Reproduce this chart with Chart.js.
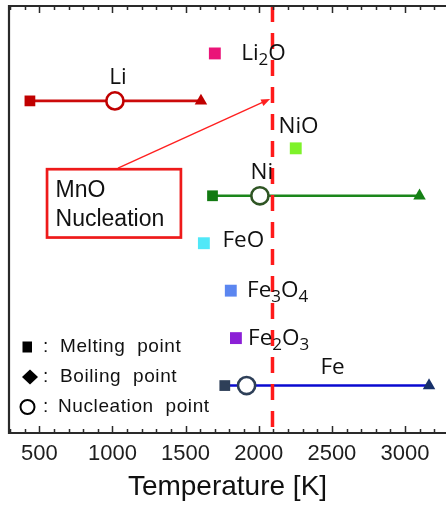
<!DOCTYPE html>
<html><head><meta charset="utf-8">
<script src="https://cdn.jsdelivr.net/npm/chart.js@4/dist/chart.umd.min.js"></script>
<style>html,body{margin:0;padding:0;background:#fff;overflow:hidden}</style>
</head><body><canvas id="c" width="446" height="507" style="display:block;width:446px;height:507px"></canvas>
<script>
// ---- data ----
const elements = ['Li', 'Ni', 'Fe'];
const elementRows = [2, 4, 8];
const meltingK = [436, 1684, 1768];
const nucleationK = [1017, 2008, 1917];
const boilingK = [1605, 3099, 3164];
const oxides = ['Li_2O', 'NiO', 'FeO', 'Fe_3O_4', 'Fe_2O_3'];
const oxideRows = [1, 3, 5, 6, 7];
const oxideMeltingK = [1700, 2253, 1625, 1809, 1844];
const mnoNucleationK = 2094;
const xMin = 293, xMax = 3280, xStep = 100, xLabelStep = 500;
const rowMin = 0, rowMax = 9;
const legendItems = ['Melting point', 'Boiling point', 'Nucleation point'];
const annotationText = ['MnO', 'Nucleation'];
const xTitle = 'Temperature [K]';

// ---- styles ----
const lineColors = ['#cc0a0a', '#1b861b', '#0a0ad0'];
const meltColors = ['#c00000', '#127a12', '#2e3f58'];
const nucColors = ['#c00000', '#2f5524', '#2e3f58'];
const boilColors = ['#c00000', '#158015', '#17306a'];
const oxideColors = ['#ea1478', '#7ef22a', '#50e8f8', '#5b86f0', '#8b1fd6'];
// label anchors: [temperature, row]
const elementLabelPos = [[1038, 1.5], [2021, 3.52], [2505, 7.62]];
const oxideLabelPos = [[1880, 1.0], [2135, 2.55], [1752, 4.95], [1920, 6.0], [1927, 7.0]];

const datasets = [];
datasets.push({
  data: [{x: mnoNucleationK, y: rowMin}, {x: mnoNucleationK, y: rowMax}],
  showLine: true, borderColor: '#ff1a1a', borderWidth: 3.5, borderDash: [16, 11],
  pointRadius: 0, borderCapStyle: 'butt'
});
elements.forEach((el, i) => {
  datasets.push({
    label: el,
    data: [{x: meltingK[i], y: elementRows[i]}, {x: nucleationK[i], y: elementRows[i]}, {x: boilingK[i], y: elementRows[i]}],
    showLine: true, borderColor: lineColors[i], borderWidth: 2.6,
    pointStyle: ['rect', 'circle', 'triangle'],
    pointRadius: [7.6, 8.6, 7.2],
    pointBackgroundColor: [meltColors[i], '#ffffff', boilColors[i]],
    pointBorderColor: [meltColors[i], nucColors[i], boilColors[i]],
    pointBorderWidth: [0, 2.6, 0]
  });
});
datasets.push({
  data: oxides.map((o, i) => ({x: oxideMeltingK[i], y: oxideRows[i]})),
  showLine: false, pointStyle: 'rect', pointRadius: 8.4, pointBorderWidth: 0,
  pointBackgroundColor: oxideColors
});

function drawRichText(ctx, text, x, y, size, align) {
  const parts = [];
  for (let i = 0; i < text.length; i++) {
    if (text[i] === '_') { parts.push([text[i + 1], true]); i++; }
    else parts.push([text[i], false]);
  }
  const fam = '"Open Sans", "Noto Sans", sans-serif';
  const main = size + 'px ' + fam;
  const sub = Math.round(size * 0.74) + 'px ' + fam;
  let total = 0;
  parts.forEach(p => { ctx.font = p[1] ? sub : main; total += ctx.measureText(p[0]).width; });
  let cx = align === 'center' ? x - total / 2 : x;
  ctx.textAlign = 'left'; ctx.textBaseline = 'middle';
  parts.forEach(p => {
    ctx.font = p[1] ? sub : main;
    ctx.fillText(p[0], cx, p[1] ? y + size * 0.3 : y);
    cx += ctx.measureText(p[0]).width;
  });
}

const decor = {
  id: 'decor',
  afterDatasetsDraw(chart) {
    const ctx = chart.ctx, a = chart.chartArea;
    const xs = chart.scales.x, ys = chart.scales.y;
    ctx.save();
    // frame
    ctx.strokeStyle = '#2a2a2a'; ctx.lineWidth = 2.2;
    ctx.beginPath();
    ctx.moveTo(a.right + 2, a.top); ctx.lineTo(a.left, a.top); ctx.lineTo(a.left, a.bottom); ctx.lineTo(a.right + 2, a.bottom);
    ctx.stroke();
    // inward ticks
    ctx.lineWidth = 1.5;
    xs.ticks.forEach(t => {
      const px = Math.round(xs.getPixelForValue(t.value)) + 0.5;
      const len = t.value % xLabelStep === 0 ? 7 : 4;
      ctx.beginPath();
      ctx.moveTo(px, a.bottom); ctx.lineTo(px, a.bottom - len);
      ctx.moveTo(px, a.top); ctx.lineTo(px, a.top + len);
      ctx.stroke();
    });
    // labels
    ctx.fillStyle = '#111';
    elements.forEach((el, i) => {
      const p = elementLabelPos[i];
      drawRichText(ctx, el, xs.getPixelForValue(p[0]), ys.getPixelForValue(p[1]), 22.5, 'center');
    });
    oxides.forEach((o, i) => {
      const p = oxideLabelPos[i];
      drawRichText(ctx, o, xs.getPixelForValue(p[0]), ys.getPixelForValue(p[1]), 22.5, 'left');
    });
    // MnO annotation box
    const bx1 = xs.getPixelForValue(553), bx2 = xs.getPixelForValue(1468);
    const by1 = ys.getPixelForValue(3.44), by2 = ys.getPixelForValue(4.88);
    ctx.strokeStyle = '#ee1a1a'; ctx.lineWidth = 2.7;
    ctx.strokeRect(bx1, by1, bx2 - bx1, by2 - by1);
    ctx.fillStyle = '#111';
    ctx.font = '23px "Liberation Sans", Arial, sans-serif';
    ctx.textAlign = 'left'; ctx.textBaseline = 'alphabetic';
    ctx.fillText(annotationText[0], bx1 + 8.5, by1 + 28);
    ctx.fillText(annotationText[1], bx1 + 8.5, by1 + 56.5);
    // arrow
    const ax1 = xs.getPixelForValue(1038), ay1 = by1 - 1;
    const ax2 = xs.getPixelForValue(2078), ay2 = ys.getPixelForValue(1.96);
    ctx.strokeStyle = '#ff2020'; ctx.fillStyle = '#ff2020'; ctx.lineWidth = 1.4;
    const ang = Math.atan2(ay2 - ay1, ax2 - ax1);
    const hl = 9, hw = 3.5;
    ctx.beginPath(); ctx.moveTo(ax1, ay1);
    ctx.lineTo(ax2 - Math.cos(ang) * hl * 0.8, ay2 - Math.sin(ang) * hl * 0.8); ctx.stroke();
    ctx.beginPath();
    ctx.moveTo(ax2, ay2);
    ctx.lineTo(ax2 - Math.cos(ang) * hl + Math.sin(ang) * hw, ay2 - Math.sin(ang) * hl - Math.cos(ang) * hw);
    ctx.lineTo(ax2 - Math.cos(ang) * hl - Math.sin(ang) * hw, ay2 - Math.sin(ang) * hl + Math.cos(ang) * hw);
    ctx.closePath(); ctx.fill();
    // legend
    const lx = 27, ly = [347, 377, 407];
    ctx.fillStyle = '#000'; ctx.strokeStyle = '#000';
    ctx.fillRect(lx - 4.5, ly[0] - 5.5, 9.5, 11);
    ctx.beginPath();
    ctx.moveTo(lx + 3, ly[1] - 7.5); ctx.lineTo(lx + 11, ly[1]); ctx.lineTo(lx + 3, ly[1] + 7.5); ctx.lineTo(lx - 5, ly[1]);
    ctx.closePath(); ctx.fill();
    ctx.lineWidth = 2; ctx.fillStyle = '#fff';
    ctx.beginPath(); ctx.arc(lx + 0.5, ly[2], 7, 0, Math.PI * 2); ctx.fill(); ctx.stroke();
    ctx.fillStyle = '#111';
    ctx.font = '19px "Liberation Sans", Arial, sans-serif';
    ctx.textBaseline = 'middle';
    try { ctx.letterSpacing = '0.6px'; } catch (e) {}
    legendItems.forEach((t, i) => {
      ctx.fillText(':', lx + 16, ly[i]);
      ctx.fillText(t.replace(' ', '  '), i === 2 ? 58 : 60, ly[i]);
    });
    ctx.restore();
  }
};

new Chart(document.getElementById('c'), {
  type: 'scatter',
  data: {datasets},
  options: {
    responsive: false, animation: false, devicePixelRatio: 1,
    layout: {autoPadding: false, padding: {left: 9, top: 6, right: 0, bottom: 0}},
    plugins: {legend: {display: false}, tooltip: {enabled: false}},
    scales: {
      x: {
        type: 'linear', min: xMin, max: xMax,
        grid: {display: false, drawTicks: false},
        border: {display: false},
        afterFit: s => { s.paddingLeft = 0; s.paddingRight = 0; s.height = 74; },
        ticks: {
          stepSize: xStep, autoSkip: false, includeBounds: false, maxRotation: 0, padding: 8,
          color: '#1e1e1e', font: {family: '"Liberation Sans", Arial, sans-serif', size: 22},
          callback: v => (v % xLabelStep === 0 ? String(v) : '')
        },
        title: {display: true, text: xTitle, color: '#111', padding: {top: 2, bottom: 3},
          font: {family: '"Liberation Sans", Arial, sans-serif', size: 28}}
      },
      y: {type: 'linear', min: rowMin, max: rowMax, reverse: true, display: false}
    }
  },
  plugins: [decor]
});
</script></body></html>
